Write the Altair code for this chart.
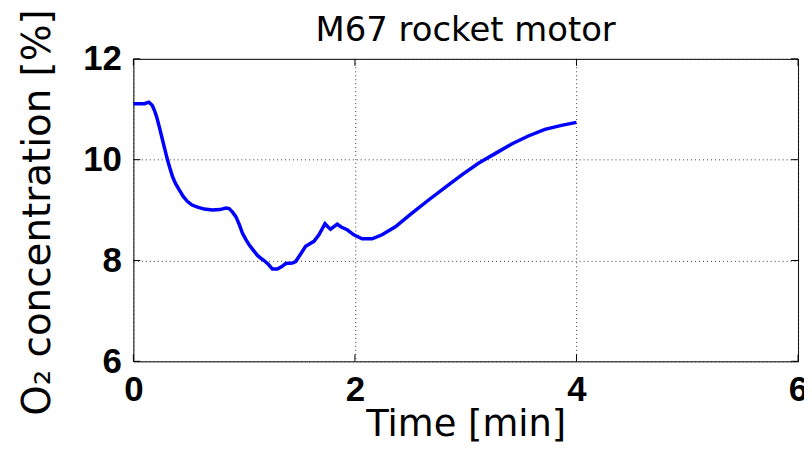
import altair as alt
import pandas as pd

# Data
time_min = [0, 0.05, 0.10, 0.14, 0.17, 0.19, 0.21, 0.234, 0.26, 0.279, 0.309, 0.33,
            0.354, 0.38, 0.414, 0.45, 0.489, 0.53, 0.579, 0.64, 0.714, 0.78, 0.835,
            0.865, 0.895, 0.925, 0.955, 0.984, 1.015, 1.045, 1.08, 1.12, 1.16, 1.18,
            1.22, 1.255, 1.30, 1.34, 1.375, 1.435, 1.465, 1.51, 1.555, 1.63, 1.675,
            1.73, 1.755, 1.78, 1.84, 1.88, 1.93, 1.99, 2.065, 2.155, 2.245, 2.365,
            2.515, 2.665, 2.815, 2.965, 3.115, 3.265, 3.415, 3.565, 3.715, 3.865, 4.0]
o2_pct = [11.11, 11.11, 11.11, 11.14, 11.08, 10.98, 10.85, 10.65, 10.42, 10.25, 9.99, 9.83,
          9.66, 9.53, 9.40, 9.27, 9.17, 9.10, 9.06, 9.02, 9.00, 9.01, 9.04,
          9.03, 8.96, 8.87, 8.72, 8.545, 8.42, 8.31, 8.21, 8.10, 8.03, 8.00,
          7.92, 7.83, 7.83, 7.88, 7.94, 7.95, 7.98, 8.13, 8.28, 8.38, 8.51,
          8.73, 8.67, 8.62, 8.72, 8.66, 8.61, 8.51, 8.43, 8.43, 8.51, 8.67,
          8.94, 9.20, 9.45, 9.70, 9.93, 10.12, 10.31, 10.47, 10.60, 10.68, 10.74]
x_ticks = [0, 2, 4, 6]
y_ticks = [6, 8, 10, 12]
chart_title = ["M67 rocket motor"]

W, H = 668, 304

df = pd.DataFrame({"Time": time_min, "O2": o2_pct})
dfx = pd.DataFrame({"Time": x_ticks})
dfy = pd.DataFrame({"O2": y_ticks})
dft = pd.DataFrame({"label": chart_title})

xscale = alt.Scale(domain=[0, 6], nice=False, zero=False)
yscale = alt.Scale(domain=[6, 12], nice=False, zero=False)

x_axis = alt.Axis(
    values=x_ticks, title="Time [min]", format="d",
    titleFont="DejaVu Sans", titleFontSize=37, titleFontWeight="normal",
    titleColor="black", titleY=75, titleBaseline="alphabetic",
    labelFont="Liberation Sans", labelFontSize=35, labelFontWeight="bold",
    labelColor="black", labelPadding=11, labelFlush=False,
    ticks=False, domain=False, grid=True, gridDash=[1, 3],
    gridColor="#333333", gridOpacity=1, gridWidth=1)
y_axis = alt.Axis(
    values=y_ticks, title="O₂ concentration [%]", format="d",
    titleFont="DejaVu Sans", titleFontSize=39, titleFontWeight="normal",
    titleColor="black", titleX=-84, titleY=154, titleAngle=270,
    titleBaseline="alphabetic", titleAlign="center",
    labelFont="Liberation Sans", labelFontSize=35, labelFontWeight="bold",
    labelColor="black", labelPadding=12, labelFlush=False,
    ticks=False, domain=False, grid=True, gridDash=[1, 3],
    gridColor="#333333", gridOpacity=1, gridWidth=1)

line = alt.Chart(df).mark_line(color="#0000FF", strokeWidth=3.5).encode(
    x=alt.X("Time:Q", scale=xscale, axis=x_axis),
    y=alt.Y("O2:Q", scale=yscale, axis=y_axis),
)

tick_len = 7
bottom_ticks = alt.Chart(dfx).mark_rule(color="black", strokeWidth=1).encode(
    x=alt.X("Time:Q", scale=xscale),
    y=alt.value(H), y2=alt.value(H - tick_len))
top_ticks = alt.Chart(dfx).mark_rule(color="black", strokeWidth=1).encode(
    x=alt.X("Time:Q", scale=xscale),
    y=alt.value(0), y2=alt.value(tick_len))
left_ticks = alt.Chart(dfy).mark_rule(color="black", strokeWidth=1).encode(
    y=alt.Y("O2:Q", scale=yscale),
    x=alt.value(0), x2=alt.value(tick_len))
right_ticks = alt.Chart(dfy).mark_rule(color="black", strokeWidth=1).encode(
    y=alt.Y("O2:Q", scale=yscale),
    x=alt.value(W), x2=alt.value(W - tick_len))

title_text = alt.Chart(dft).mark_text(
    font="DejaVu Sans", fontSize=34, color="black", align="center",
    baseline="alphabetic").encode(
    text="label:N", x=alt.value(W / 2), y=alt.value(-18))

chart = alt.layer(line, bottom_ticks, top_ticks, left_ticks, right_ticks,
                  title_text).properties(
    width=W, height=H,
    autosize=alt.AutoSizeParams(type="none"),
    padding={"left": 126, "top": 50, "right": 6, "bottom": 85},
    background="white",
).configure_view(stroke="black", strokeWidth=1)

chart.save("out.html", embed_options={"renderer": "svg", "actions": False})
